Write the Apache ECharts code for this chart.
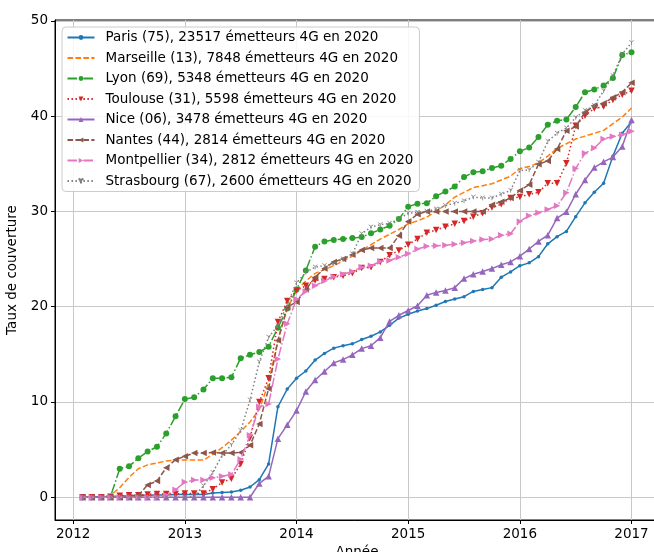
<!DOCTYPE html>
<html><head><meta charset="utf-8">
<script src="https://cdn.jsdelivr.net/npm/echarts@6/dist/echarts.min.js"></script>
<style>html,body{margin:0;padding:0;background:#fff}#c{width:654px;height:552px}</style>
</head><body><div id="c"></div>
<script>
// monthly samples Feb 2012 .. Jan 2017
const startYear = 2012, startMonth = 2, nMonths = 60;
const xTicks = [2012, 2013, 2014, 2015, 2016, 2017];
const yTicks = [0, 10, 20, 30, 40, 50];

const names = [
  "Paris (75), 23517 émetteurs 4G en 2020",
  "Marseille (13), 7848 émetteurs 4G en 2020",
  "Lyon (69), 5348 émetteurs 4G en 2020",
  "Toulouse (31), 5598 émetteurs 4G en 2020",
  "Nice (06), 3478 émetteurs 4G en 2020",
  "Nantes (44), 2814 émetteurs 4G en 2020",
  "Montpellier (34), 2812 émetteurs 4G en 2020",
  "Strasbourg (67), 2600 émetteurs 4G en 2020"
];

const paris = [0,0.02,0.05,0.08,0.1,0.15,0.2,0.2,0.25,0.25,0.3,0.3,0.3,0.3,0.45,0.5,0.55,0.73,1.08,1.85,3.5,9.5,11.35,12.5,13.25,14.4,15.1,15.65,15.9,16.1,16.55,16.9,17.35,18.05,18.8,19.2,19.55,19.8,20.15,20.55,20.8,21.05,21.6,21.8,22.0,23.1,23.65,24.3,24.6,25.25,26.6,27.35,27.9,29.45,30.9,32.0,32.95,35.8,38.2,39.4];
const marseille = [0,0,0.05,0.2,1.0,2.1,3.0,3.4,3.6,3.8,3.9,3.9,3.9,3.9,4.5,5.2,6.0,6.9,7.9,9.2,12.0,16.5,19.8,21.7,22.7,23.5,23.9,24.3,24.8,25.3,25.9,26.5,27.1,27.6,28.1,28.7,29.0,29.4,30.0,30.7,31.5,32.0,32.5,32.7,32.9,33.3,33.7,34.5,34.7,35.1,35.8,36.6,37.1,37.6,37.9,38.2,38.5,39.2,39.9,40.85];
const lyon = [0,0,0,0.05,3.0,3.25,4.1,4.8,5.3,6.7,8.5,10.3,10.5,11.3,12.5,12.5,12.6,14.6,14.95,15.25,15.8,17.8,19.8,21.8,23.8,26.3,26.85,27.0,27.1,27.2,27.3,27.7,28.1,28.5,29.2,30.5,30.8,30.85,31.6,32.1,32.6,33.6,34.1,34.2,34.55,34.8,35.5,36.3,36.7,37.8,39.1,39.5,39.65,40.95,42.5,42.8,43.2,44.0,46.4,46.7];
const toulouse = [0,0,0,0.05,0.15,0.2,0.2,0.3,0.35,0.35,0.35,0.4,0.4,0.4,0.85,1.55,1.95,3.5,6.25,10.0,12.5,18.4,20.6,21.7,22.2,22.75,22.9,23.1,23.25,23.5,24.05,24.15,24.7,25.4,25.9,26.5,27.1,27.75,28.05,28.4,28.7,29.0,29.45,29.8,30.4,30.75,31.4,31.5,31.8,32.0,32.95,32.95,35.05,39.0,40.05,40.8,41.0,41.7,42.25,42.65];
const nice = [0,0,0,0,0,0,0,0,0,0,0,0,0,0,0,0,0,0,0,1.45,2.2,6.15,7.6,9.1,11.1,12.3,13.2,14.1,14.45,14.95,15.6,15.9,16.75,18.45,19.1,19.6,20.1,21.2,21.5,21.7,22.0,22.95,23.4,23.7,24.0,24.4,24.7,25.3,26.05,26.85,27.5,29.3,29.95,31.8,33.3,34.6,35.2,35.7,36.8,39.6];
const nantes = [0,0,0,0,0,0,0.2,1.3,1.7,3.1,3.95,4.3,4.65,4.65,4.7,4.65,4.65,4.7,5.45,7.7,11.4,16.45,19.95,20.5,21.8,23.1,24.0,24.7,25.0,25.45,25.95,26.15,26.15,26.15,27.45,28.95,29.7,30.0,30.0,30.0,30.0,30.0,30.0,30.0,30.7,31.0,31.4,32.2,32.8,34.95,35.3,36.55,38.45,38.9,40.4,41.1,41.35,41.95,42.5,43.5];
const montpellier = [0,0,0,0,0,0,0,0,0,0.2,0.8,1.6,1.8,1.8,2.05,2.2,2.4,4.0,6.5,9.5,9.8,14.5,18.2,20.8,21.6,22.2,22.7,23.15,23.4,23.7,24.15,24.3,24.75,24.85,25.2,25.55,26.05,26.35,26.4,26.45,26.55,26.7,26.9,27.05,27.1,27.5,27.65,28.95,29.55,29.85,30.2,30.6,31.95,34.5,36.1,36.65,37.6,37.85,38.05,38.4];
const strasbourg = [0,0,0,0,0,0,0,0,0,0,0,0,0.1,1.2,2.6,4.4,5.5,7.0,10.2,14.2,16.8,18.0,20.2,22.5,23.6,24.15,24.3,24.5,25.0,25.55,27.65,28.35,28.6,28.75,29.2,29.8,29.9,30.0,30.25,30.6,30.85,31.1,31.5,31.4,31.4,31.8,32.2,34.3,34.35,35.15,37.35,38.2,38.75,39.85,40.6,41.1,42.65,44.25,46.5,47.7];

const values = [paris, marseille, lyon, toulouse, nice, nantes, montpellier, strasbourg];
const colors = ['#1f77b4','#ff7f0e','#2ca02c','#d62728','#9467bd','#8c564b','#e377c2','#7f7f7f'];
const LW = 1.5;
const dash = [5.55, 2.4], dashdot = [9.6, 2.4, 1.5, 2.4], dot = [1.5, 2.475];
const styles = [
  {type:'solid', symbol:'circle', size:3.5, rot:0},
  {type:dash, symbol:'none', size:0, rot:0},
  {type:dashdot, symbol:'circle', size:6, rot:0},
  {type:dot, symbol:'triangle', size:6.5, rot:180},
  {type:'solid', symbol:'triangle', size:6.5, rot:0},
  {type:dash, symbol:'triangle', size:6.5, rot:90},
  {type:dashdot, symbol:'triangle', size:6.5, rot:-90},
  {type:dot, symbol:'path://M5,5 L5,10 M5,5 L0.67,2.5 M5,5 L9.33,2.5', size:4.5, rot:0, stroke:true}
];

const xs = [];
for (let i = 0; i < nMonths; i++) xs.push(startYear + (startMonth - 1 + i) / 12);

const series = values.map((vals, k) => {
  const s = styles[k];
  return {
    name: names[k],
    type: 'line',
    data: vals.map((v, i) => [xs[i], v]),
    symbol: s.symbol,
    symbolSize: s.size,
    symbolRotate: s.rot,
    showSymbol: s.symbol !== 'none',
    lineStyle: {color: colors[k], width: LW, type: s.type},
    itemStyle: s.stroke ? {color: colors[k], borderColor: colors[k], borderWidth: 0.8} : {color: colors[k], borderWidth: 0},
    emphasis: {disabled: true},
    z: 2 + k
  };
});

const legendData = names.map((n, k) => styles[k].symbol === 'none'
  ? {name: n, itemStyle: {opacity: 0}}
  : {name: n});

const chart = echarts.init(document.getElementById('c'), null, {renderer: 'canvas'});
const font = 'DejaVu Sans';
const FS = 13.5;
chart.setOption({
  animation: false,
  backgroundColor: '#fff',
  textStyle: {fontFamily: font},
  grid: {left: 55, top: 20, width: 604, height: 500, outerBoundsMode: 'none', containLabel: false, show: true, borderColor: '#000', borderWidth: 1, backgroundColor: 'transparent'},
  xAxis: {
    type: 'value', min: 2011.837, max: 2017.246,
    name: 'Année', nameLocation: 'middle', nameGap: 24,
    nameTextStyle: {fontFamily: font, fontSize: FS, color: '#000'},
    axisLine: {show: true, onZero: false, lineStyle: {color: '#000', width: 1}},
    axisTick: {show: true, length: 4, customValues: xTicks, lineStyle: {color: '#000'}},
    axisLabel: {customValues: xTicks, margin: 7, fontFamily: font, fontSize: FS, color: '#000', formatter: v => String(v)},
    splitLine: {show: true, lineStyle: {color: '#c8c8c8', width: 1}}
  },
  yAxis: {
    type: 'value', min: -2.385, max: 50.085,
    name: 'Taux de couverture', nameLocation: 'middle', nameGap: 25, nameRotate: 90,
    nameTextStyle: {fontFamily: font, fontSize: FS, color: '#000'},
    axisLine: {show: true, onZero: false, lineStyle: {color: '#000', width: 1}},
    axisTick: {show: true, length: 4, customValues: yTicks, lineStyle: {color: '#000'}},
    axisLabel: {customValues: yTicks, margin: 7, fontFamily: font, fontSize: FS, color: '#000', formatter: v => String(v)},
    splitLine: {show: true, lineStyle: {color: '#c8c8c8', width: 1}}
  },
  legend: {
    data: legendData,
    orient: 'vertical',
    left: 62, top: 27,
    padding: [3.5, 6, 3.5, 4.5],
    itemWidth: 27, itemHeight: 6, itemGap: 6.5,
    backgroundColor: 'rgba(255,255,255,0.85)',
    borderColor: '#cccccc', borderWidth: 1, borderRadius: 4,
    textStyle: {fontFamily: font, fontSize: FS, color: '#000', lineHeight: 14, padding: [0, 0, 0, 6]},
    selectedMode: false
  },
  series: series
});
</script></body></html>
